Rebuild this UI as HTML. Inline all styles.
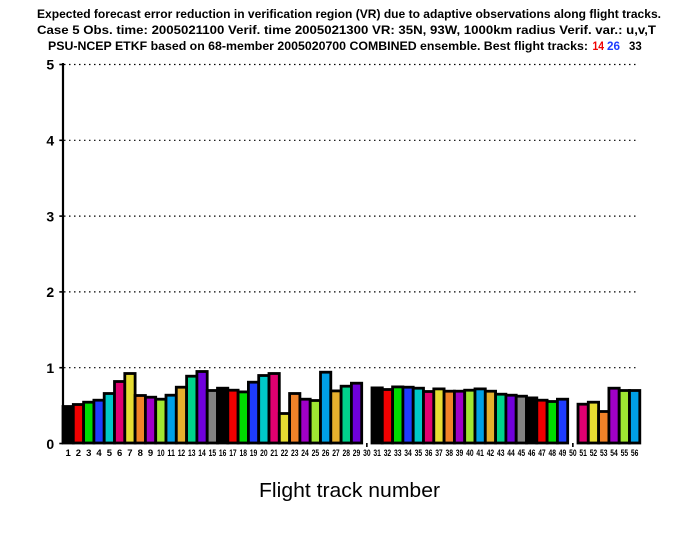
<!DOCTYPE html>
<html><head><meta charset="utf-8"><style>
html,body{margin:0;padding:0;background:#fff;}
svg{display:block;}
.t{font-family:"Liberation Sans",sans-serif;font-weight:bold;font-size:11.5px;fill:#000;}
.yl{font-family:"Liberation Sans",sans-serif;font-weight:bold;font-size:14px;fill:#000;text-anchor:middle;}
.xl{font-family:"Liberation Sans",sans-serif;font-weight:bold;font-size:9.5px;fill:#000;text-anchor:middle;}
</style></head><body>
<svg width="700" height="540" viewBox="0 0 700 540" xmlns="http://www.w3.org/2000/svg">
<rect width="700" height="540" fill="#fff"/>
<!-- titles -->
<text class="t" x="37" y="18" textLength="624" lengthAdjust="spacingAndGlyphs">Expected forecast error reduction in verification region (VR) due to adaptive observations along flight tracks.</text>
<text class="t" x="37" y="34" textLength="619" lengthAdjust="spacingAndGlyphs">Case 5   Obs. time: 2005021100   Verif. time 2005021300   VR: 35N, 93W, 1000km radius   Verif. var.: u,v,T</text>
<text class="t" x="48" y="50" textLength="540" lengthAdjust="spacingAndGlyphs">PSU-NCEP ETKF based on 68-member 2005020700 COMBINED ensemble.  Best flight tracks:</text>
<text class="t" x="592.5" y="50" textLength="11.5" lengthAdjust="spacingAndGlyphs" style="fill:#f00000;font-size:12px">14</text>
<text class="t" x="607" y="50" textLength="13" lengthAdjust="spacingAndGlyphs" style="fill:#1e3cff;font-size:12px">26</text>
<text class="t" x="629" y="50" textLength="12.7" lengthAdjust="spacingAndGlyphs" style="font-size:12px">33</text>

<!-- gridlines -->
<g stroke="#000" stroke-width="1.2" stroke-dasharray="1.5 3.5" fill="none">
<line x1="64" y1="367.7" x2="639" y2="367.7"/>
<line x1="64" y1="291.9" x2="639" y2="291.9"/>
<line x1="64" y1="216.1" x2="639" y2="216.1"/>
<line x1="64" y1="140.3" x2="639" y2="140.3"/>
<line x1="64" y1="64.5" x2="639" y2="64.5"/>
</g>

<!-- bars -->
<g stroke="#000" stroke-width="2.8">
<rect x="63" y="406.5" width="10.3" height="36.5" fill="#000000"/>
<rect x="73.3" y="404.5" width="10.3" height="38.5" fill="#f00000"/>
<rect x="83.6" y="402.2" width="10.3" height="40.8" fill="#00dc00"/>
<rect x="93.9" y="400.2" width="10.3" height="42.8" fill="#1e3cff"/>
<rect x="104.2" y="393.5" width="10.3" height="49.5" fill="#00c8c8"/>
<rect x="114.5" y="381.5" width="10.3" height="61.5" fill="#e00070"/>
<rect x="124.8" y="373.5" width="10.3" height="69.5" fill="#e6dc32"/>
<rect x="135.1" y="395.5" width="10.3" height="47.5" fill="#f08228"/>
<rect x="145.4" y="397.2" width="10.3" height="45.8" fill="#a000c8"/>
<rect x="155.7" y="399.2" width="10.3" height="43.8" fill="#a0e632"/>
<rect x="166" y="395.2" width="10.3" height="47.8" fill="#00a0e6"/>
<rect x="176.3" y="387.2" width="10.3" height="55.8" fill="#e6af2d"/>
<rect x="186.6" y="376.2" width="10.3" height="66.8" fill="#00d28c"/>
<rect x="196.9" y="371.5" width="10.3" height="71.5" fill="#7000dc"/>
<rect x="207.2" y="390.5" width="10.3" height="52.5" fill="#828282"/>
<rect x="217.5" y="388.2" width="10.3" height="54.8" fill="#000000"/>
<rect x="227.8" y="390.2" width="10.3" height="52.8" fill="#f00000"/>
<rect x="238.1" y="391.9" width="10.3" height="51.1" fill="#00dc00"/>
<rect x="248.4" y="382.2" width="10.3" height="60.8" fill="#1e3cff"/>
<rect x="258.7" y="375.5" width="10.3" height="67.5" fill="#00c8c8"/>
<rect x="269" y="373.5" width="10.3" height="69.5" fill="#e00070"/>
<rect x="279.3" y="413.5" width="10.3" height="29.5" fill="#e6dc32"/>
<rect x="289.6" y="393.5" width="10.3" height="49.5" fill="#f08228"/>
<rect x="299.9" y="399.2" width="10.3" height="43.8" fill="#a000c8"/>
<rect x="310.2" y="400.5" width="10.3" height="42.5" fill="#a0e632"/>
<rect x="320.5" y="372.2" width="10.3" height="70.8" fill="#00a0e6"/>
<rect x="330.8" y="390.9" width="10.3" height="52.1" fill="#e6af2d"/>
<rect x="341.1" y="386.2" width="10.3" height="56.8" fill="#00d28c"/>
<rect x="351.4" y="383.2" width="10.3" height="59.8" fill="#7000dc"/>
<rect x="372" y="387.9" width="10.3" height="55.1" fill="#000000"/>
<rect x="382.3" y="389.5" width="10.3" height="53.5" fill="#f00000"/>
<rect x="392.6" y="386.9" width="10.3" height="56.1" fill="#00dc00"/>
<rect x="402.9" y="387.2" width="10.3" height="55.8" fill="#1e3cff"/>
<rect x="413.2" y="388.2" width="10.3" height="54.8" fill="#00c8c8"/>
<rect x="423.5" y="391.5" width="10.3" height="51.5" fill="#e00070"/>
<rect x="433.8" y="388.9" width="10.3" height="54.1" fill="#e6dc32"/>
<rect x="444.1" y="391.2" width="10.3" height="51.8" fill="#f08228"/>
<rect x="454.4" y="391.2" width="10.3" height="51.8" fill="#a000c8"/>
<rect x="464.7" y="390.2" width="10.3" height="52.8" fill="#a0e632"/>
<rect x="475" y="388.9" width="10.3" height="54.1" fill="#00a0e6"/>
<rect x="485.3" y="391.2" width="10.3" height="51.8" fill="#e6af2d"/>
<rect x="495.6" y="394.2" width="10.3" height="48.8" fill="#00d28c"/>
<rect x="505.9" y="395.2" width="10.3" height="47.8" fill="#7000dc"/>
<rect x="516.2" y="396.2" width="10.3" height="46.8" fill="#828282"/>
<rect x="526.5" y="397.9" width="10.3" height="45.1" fill="#000000"/>
<rect x="536.8" y="400.2" width="10.3" height="42.8" fill="#f00000"/>
<rect x="547.1" y="401.5" width="10.3" height="41.5" fill="#00dc00"/>
<rect x="557.4" y="399.2" width="10.3" height="43.8" fill="#1e3cff"/>
<rect x="578" y="404.2" width="10.3" height="38.8" fill="#e00070"/>
<rect x="588.3" y="402.2" width="10.3" height="40.8" fill="#e6dc32"/>
<rect x="598.6" y="411.5" width="10.3" height="31.5" fill="#f08228"/>
<rect x="608.9" y="388.2" width="10.3" height="54.8" fill="#a000c8"/>
<rect x="619.2" y="390.5" width="10.3" height="52.5" fill="#a0e632"/>
<rect x="629.5" y="390.5" width="10.3" height="52.5" fill="#00a0e6"/>
</g>

<!-- y axis -->
<line x1="63" y1="63" x2="63" y2="444" stroke="#000" stroke-width="2.2"/>
<g stroke="#000" stroke-width="1.6">
<line x1="59.3" y1="443.5" x2="63" y2="443.5"/>
<line x1="59.3" y1="367.7" x2="63" y2="367.7"/>
<line x1="59.3" y1="291.9" x2="63" y2="291.9"/>
<line x1="59.3" y1="216.1" x2="63" y2="216.1"/>
<line x1="59.3" y1="140.3" x2="63" y2="140.3"/>
<line x1="59.3" y1="64.5" x2="63" y2="64.5"/>
</g>
<text class="yl" x="50.3" y="449">0</text>
<text class="yl" x="50.3" y="373">1</text>
<text class="yl" x="50.3" y="297">2</text>
<text class="yl" x="50.3" y="221.5">3</text>
<text class="yl" x="50.3" y="145.5">4</text>
<text class="yl" x="50.3" y="69.5">5</text>

<!-- x ticks -->
<g stroke="#000" stroke-width="1.6">
<line x1="366.85" y1="443" x2="366.85" y2="447"/>
<line x1="572.85" y1="443" x2="572.85" y2="447"/>
</g>

<!-- x labels -->
<g>
<text class="xl" x="68.15" y="456">1</text>
<text class="xl" x="78.45" y="456">2</text>
<text class="xl" x="88.75" y="456">3</text>
<text class="xl" x="99.05" y="456">4</text>
<text class="xl" x="109.35" y="456">5</text>
<text class="xl" x="119.65" y="456">6</text>
<text class="xl" x="129.95" y="456">7</text>
<text class="xl" x="140.25" y="456">8</text>
<text class="xl" x="150.55" y="456">9</text>
<text class="xl" x="160.85" y="456" textLength="7.5" lengthAdjust="spacingAndGlyphs">10</text>
<text class="xl" x="171.15" y="456" textLength="7.5" lengthAdjust="spacingAndGlyphs">11</text>
<text class="xl" x="181.45" y="456" textLength="7.5" lengthAdjust="spacingAndGlyphs">12</text>
<text class="xl" x="191.75" y="456" textLength="7.5" lengthAdjust="spacingAndGlyphs">13</text>
<text class="xl" x="202.05" y="456" textLength="7.5" lengthAdjust="spacingAndGlyphs">14</text>
<text class="xl" x="212.35" y="456" textLength="7.5" lengthAdjust="spacingAndGlyphs">15</text>
<text class="xl" x="222.65" y="456" textLength="7.5" lengthAdjust="spacingAndGlyphs">16</text>
<text class="xl" x="232.95" y="456" textLength="7.5" lengthAdjust="spacingAndGlyphs">17</text>
<text class="xl" x="243.25" y="456" textLength="7.5" lengthAdjust="spacingAndGlyphs">18</text>
<text class="xl" x="253.55" y="456" textLength="7.5" lengthAdjust="spacingAndGlyphs">19</text>
<text class="xl" x="263.85" y="456" textLength="7.5" lengthAdjust="spacingAndGlyphs">20</text>
<text class="xl" x="274.15" y="456" textLength="7.5" lengthAdjust="spacingAndGlyphs">21</text>
<text class="xl" x="284.45" y="456" textLength="7.5" lengthAdjust="spacingAndGlyphs">22</text>
<text class="xl" x="294.75" y="456" textLength="7.5" lengthAdjust="spacingAndGlyphs">23</text>
<text class="xl" x="305.05" y="456" textLength="7.5" lengthAdjust="spacingAndGlyphs">24</text>
<text class="xl" x="315.35" y="456" textLength="7.5" lengthAdjust="spacingAndGlyphs">25</text>
<text class="xl" x="325.65" y="456" textLength="7.5" lengthAdjust="spacingAndGlyphs">26</text>
<text class="xl" x="335.95" y="456" textLength="7.5" lengthAdjust="spacingAndGlyphs">27</text>
<text class="xl" x="346.25" y="456" textLength="7.5" lengthAdjust="spacingAndGlyphs">28</text>
<text class="xl" x="356.55" y="456" textLength="7.5" lengthAdjust="spacingAndGlyphs">29</text>
<text class="xl" x="366.85" y="456" textLength="7.5" lengthAdjust="spacingAndGlyphs">30</text>
<text class="xl" x="377.15" y="456" textLength="7.5" lengthAdjust="spacingAndGlyphs">31</text>
<text class="xl" x="387.45" y="456" textLength="7.5" lengthAdjust="spacingAndGlyphs">32</text>
<text class="xl" x="397.75" y="456" textLength="7.5" lengthAdjust="spacingAndGlyphs">33</text>
<text class="xl" x="408.05" y="456" textLength="7.5" lengthAdjust="spacingAndGlyphs">34</text>
<text class="xl" x="418.35" y="456" textLength="7.5" lengthAdjust="spacingAndGlyphs">35</text>
<text class="xl" x="428.65" y="456" textLength="7.5" lengthAdjust="spacingAndGlyphs">36</text>
<text class="xl" x="438.95" y="456" textLength="7.5" lengthAdjust="spacingAndGlyphs">37</text>
<text class="xl" x="449.25" y="456" textLength="7.5" lengthAdjust="spacingAndGlyphs">38</text>
<text class="xl" x="459.55" y="456" textLength="7.5" lengthAdjust="spacingAndGlyphs">39</text>
<text class="xl" x="469.85" y="456" textLength="7.5" lengthAdjust="spacingAndGlyphs">40</text>
<text class="xl" x="480.15" y="456" textLength="7.5" lengthAdjust="spacingAndGlyphs">41</text>
<text class="xl" x="490.45" y="456" textLength="7.5" lengthAdjust="spacingAndGlyphs">42</text>
<text class="xl" x="500.75" y="456" textLength="7.5" lengthAdjust="spacingAndGlyphs">43</text>
<text class="xl" x="511.05" y="456" textLength="7.5" lengthAdjust="spacingAndGlyphs">44</text>
<text class="xl" x="521.35" y="456" textLength="7.5" lengthAdjust="spacingAndGlyphs">45</text>
<text class="xl" x="531.65" y="456" textLength="7.5" lengthAdjust="spacingAndGlyphs">46</text>
<text class="xl" x="541.95" y="456" textLength="7.5" lengthAdjust="spacingAndGlyphs">47</text>
<text class="xl" x="552.25" y="456" textLength="7.5" lengthAdjust="spacingAndGlyphs">48</text>
<text class="xl" x="562.55" y="456" textLength="7.5" lengthAdjust="spacingAndGlyphs">49</text>
<text class="xl" x="572.85" y="456" textLength="7.5" lengthAdjust="spacingAndGlyphs">50</text>
<text class="xl" x="583.15" y="456" textLength="7.5" lengthAdjust="spacingAndGlyphs">51</text>
<text class="xl" x="593.45" y="456" textLength="7.5" lengthAdjust="spacingAndGlyphs">52</text>
<text class="xl" x="603.75" y="456" textLength="7.5" lengthAdjust="spacingAndGlyphs">53</text>
<text class="xl" x="614.05" y="456" textLength="7.5" lengthAdjust="spacingAndGlyphs">54</text>
<text class="xl" x="624.35" y="456" textLength="7.5" lengthAdjust="spacingAndGlyphs">55</text>
<text class="xl" x="634.65" y="456" textLength="7.5" lengthAdjust="spacingAndGlyphs">56</text>
</g>

<!-- x axis title -->
<text x="259" y="497" textLength="181" lengthAdjust="spacingAndGlyphs" style="font-family:'Liberation Sans',sans-serif;font-size:20px;fill:#000">Flight track number</text>
</svg>
</body></html>
